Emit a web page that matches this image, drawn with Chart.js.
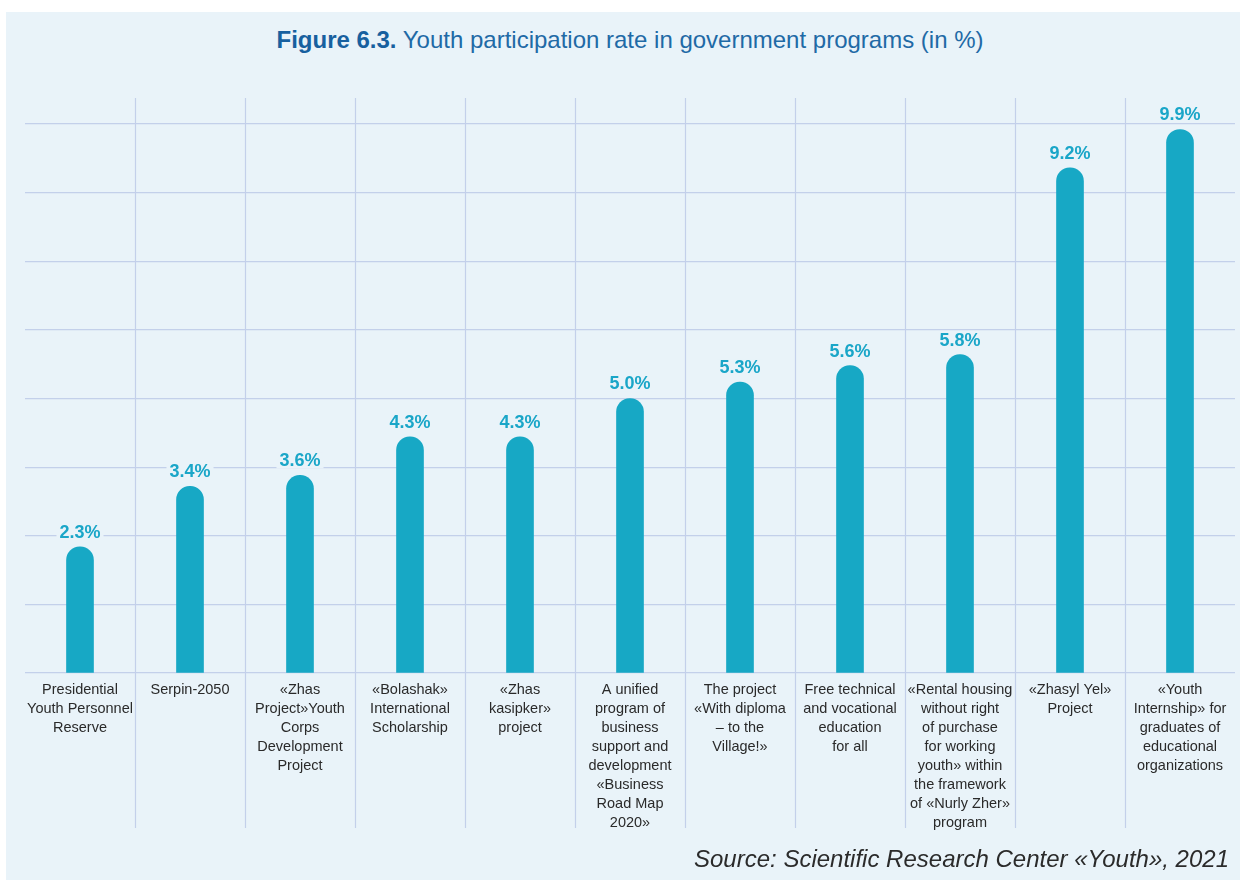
<!DOCTYPE html>
<html>
<head>
<meta charset="utf-8">
<script src="https://cdn.jsdelivr.net/npm/chart.js@4.4.1/dist/chart.umd.min.js"></script>
<style>
	html, body { margin: 0; padding: 0; background: #ffffff; }
	body { width: 1240px; height: 880px; position: relative; overflow: hidden; font-family: 'Liberation Sans', Arial, sans-serif; }
	.panel { position: absolute; left: 6px; top: 12px; width: 1234px; height: 868px; background: #e9f3f9; }
	.title { position: absolute; left: 0; width: 1260px; top: 26px; text-align: center; font-size: 24px; color: #1f6aa6; white-space: nowrap; }
	.title b { color: #17609f; }
	.source { position: absolute; right: 11px; top: 845px; font-size: 24px; font-style: italic; color: #2b2b2b; white-space: nowrap; }
	canvas { position: absolute; left: 0; top: 0; }
</style>
</head>
<body>
<div class="panel"></div>
<div class="title"><b>Figure 6.3.</b> Youth participation rate in government programs (in %)</div>
<canvas id="chart" width="1240" height="880"></canvas>
<div class="source">Source: Scientific Research Center «Youth», 2021</div>
<script>
const categories = [
	['Presidential', 'Youth Personnel', 'Reserve'],
	['Serpin-2050'],
	['«Zhas', 'Project»Youth', 'Corps', 'Development', 'Project'],
	['«Bolashak»', 'International', 'Scholarship'],
	['«Zhas', 'kasipker»', 'project'],
	['A unified', 'program of', 'business', 'support and', 'development', '«Business', 'Road Map', '2020»'],
	['The project', '«With diploma', '– to the', 'Village!»'],
	['Free technical', 'and vocational', 'education', 'for all'],
	['«Rental housing', 'without right', 'of purchase', 'for working', 'youth» within', 'the framework', 'of «Nurly Zher»', 'program'],
	['«Zhasyl Yel»', 'Project'],
	['«Youth', 'Internship» for', 'graduates of', 'educational', 'organizations'],
];
const values = [2.3, 3.4, 3.6, 4.3, 4.3, 5.0, 5.3, 5.6, 5.8, 9.2, 9.9];
const valueLabels = ['2.3%', '3.4%', '3.6%', '4.3%', '4.3%', '5.0%', '5.3%', '5.6%', '5.8%', '9.2%', '9.9%'];
const yMin = 0;
const yMax = 10;
const yStep = 1.25;

const panelColor = '#e9f3f9';
const gridColor = '#c3d0ea';
const barColor = '#17a8c5';

// vertical separators between the categories
const separators = {
	id: 'separators',
	beforeDatasetsDraw(chart) {
		const ctx = chart.ctx,
			x = chart.scales.x,
			area = chart.chartArea;
		ctx.save();
		ctx.strokeStyle = gridColor;
		ctx.lineWidth = 1.2;
		for (let i = 0; i < categories.length - 1; i++) {
			const px = Math.round((x.getPixelForValue(i) + x.getPixelForValue(i + 1)) / 2) + 0.5;
			ctx.beginPath();
			ctx.moveTo(px, area.top - 26);
			ctx.lineTo(px, area.bottom + 155);
			ctx.stroke();
		}
		ctx.restore();
	},
};

// value labels on a patch of background colour
const valueTags = {
	id: 'valueTags',
	afterDatasetsDraw(chart) {
		const ctx = chart.ctx;
		ctx.save();
		ctx.font = 'bold 18px "Liberation Sans", Arial, sans-serif';
		ctx.textAlign = 'center';
		ctx.textBaseline = 'middle';
		chart.getDatasetMeta(0).data.forEach((bar, i) => {
			const text = valueLabels[i],
				w = ctx.measureText(text).width,
				y = bar.y - 15;
			ctx.fillStyle = panelColor;
			ctx.fillRect(bar.x - w / 2 - 3, y - 8, w + 6, 16);
			ctx.fillStyle = '#1aa6c8';
			ctx.fillText(text, bar.x, y + 1);
		});
		ctx.restore();
	},
};

new Chart(document.getElementById('chart'), {
	type: 'bar',
	data: {
		labels: categories,
		datasets: [
			{
				data: values,
				backgroundColor: barColor,
				barThickness: 27,
				borderRadius: { topLeft: 14, topRight: 14, bottomLeft: 0, bottomRight: 0 },
				borderSkipped: 'start',
			},
		],
	},
	options: {
		responsive: false,
		animation: false,
		layout: {
			padding: { top: 124, left: 25, right: 5, bottom: 41 },
		},
		plugins: {
			legend: { display: false },
			tooltip: { enabled: false },
			title: { display: false },
		},
		scales: {
			x: {
				grid: { display: false, drawTicks: false },
				border: { display: false },
				ticks: {
					autoSkip: false,
					maxRotation: 0,
					minRotation: 0,
					padding: 7,
					color: '#2a2a2a',
					font: { family: '"Liberation Sans", Arial, sans-serif', size: 14.5, lineHeight: 1.31 },
				},
			},
			y: {
				min: yMin,
				max: yMax,
				grid: { color: gridColor, lineWidth: 1.2, drawTicks: false },
				border: { display: false },
				ticks: { display: false, stepSize: yStep },
			},
		},
	},
	plugins: [separators, valueTags],
});
</script>
</body>
</html>
